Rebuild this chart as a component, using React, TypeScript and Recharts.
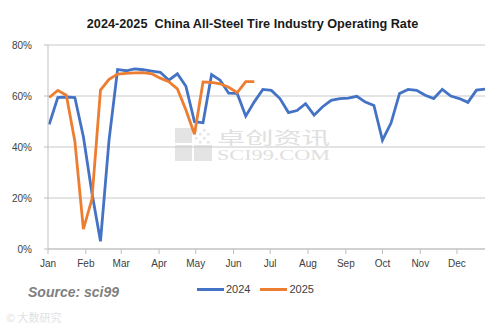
import React from 'react';
import { LineChart, Line, XAxis, YAxis, CartesianGrid } from 'recharts';

const title = '2024-2025  China All-Steel Tire Industry Operating Rate';
const monthLabels = ['Jan', 'Feb', 'Mar', 'Apr', 'May', 'Jun', 'Jul', 'Aug', 'Sep', 'Oct', 'Nov', 'Dec'];
const monthStartDays = [0, 31, 60, 91, 121, 152, 182, 213, 244, 274, 305, 335];
const yTicks = [0, 20, 40, 60, 80];

// day-of-year of each weekly observation
const weekDays = [1, 8, 15, 22, 29, 36, 43, 50, 57, 64, 71, 78, 85, 92, 99, 106, 113, 120, 127, 134, 141, 148, 155, 162, 169, 176, 183, 190, 197, 204, 211, 218, 225, 232, 239, 246, 253, 260, 267, 274, 281, 288, 295, 302, 309, 316, 323, 330, 337, 344, 351, 358];

const rate2024 = [48.9, 59.4, 59.6, 59.4, 44.0, 22.0, 3.0, 42.7, 70.4, 69.9, 70.6, 70.3, 69.8, 69.3, 66.2, 68.7, 63.8, 49.9, 49.5, 68.4, 66.2, 61.1, 61.0, 52.1, 57.7, 62.6, 62.2, 59.0, 53.5, 54.3, 57.0, 52.5, 55.8, 58.3, 59.0, 59.2, 59.9, 57.6, 56.3, 42.7, 49.4, 61.0, 62.6, 62.2, 60.3, 59.0, 62.6, 60.0, 59.0, 57.5, 62.3, 62.7];
const rate2025 = [59.4, 62.2, 60.3, 42.3, 7.8, 19.6, 62.3, 66.5, 68.6, 68.9, 69.1, 69.2, 68.7, 67.0, 65.6, 62.8, 54.5, 45.0, 65.5, 65.3, 64.8, 63.4, 61.3, 65.6, 65.6];

const series = [
  { key: 'y2024', name: '2024', color: '#4472C4' },
  { key: 'y2025', name: '2025', color: '#ED7D31' },
];

const data = weekDays.map((d, i) => ({
  day: d,
  y2024: rate2024[i] ?? null,
  y2025: rate2025[i] ?? null,
}));

const W = 501;
const H = 327;

export default function App() {
  return (
    <div style={{ position: 'absolute', left: 0, top: 0, width: W, height: H, background: '#fff', overflow: 'hidden', fontFamily: '"Liberation Sans", Arial, sans-serif' }}>
      {/* watermark */}
      <svg width={W} height={H} style={{ position: 'absolute', left: 0, top: 0 }}>
        <g fill="#e4e4e4">
          <rect x={175} y={128} width={17} height={15} />
          <rect x={175} y={145} width={17} height={16} />
          <rect x={194} y={145} width={18} height={16} />
          {[0, 1, 2, 3].map((r) =>
            [0, 1, 2, 3].map((c) => (
              (r + c) % 2 === 0 ? <rect key={`${r}-${c}`} x={195 + c * 4} y={129 + r * 4} width={2.5} height={2.5} /> : null
            ))
          )}
        </g>
        <text x={217} y={144} fontSize={17} fill="#e0e0e0" textLength={113} lengthAdjust="spacingAndGlyphs" fontFamily='"Noto Sans CJK SC", sans-serif'>卓创资讯</text>
        <text x={217} y={160} fontSize={14} fill="#e0e0e0" textLength={113} lengthAdjust="spacingAndGlyphs" fontFamily='"Liberation Serif", serif'>SCI99.COM</text>
      </svg>
      <div style={{ position: 'absolute', left: 0, top: 0 }}>
        <LineChart width={W} height={H} data={data} margin={{ top: 45, right: 16, bottom: 48, left: 0 }}>
          <CartesianGrid vertical={false} stroke="#c9c9c9" strokeWidth={1} />
          <XAxis
            dataKey="day"
            type="number"
            domain={[0, 358]}
            ticks={monthStartDays}
            tickFormatter={(v: number) => monthLabels[monthStartDays.indexOf(v)] ?? ''}
            interval={0}
            height={30}
            stroke="#bfbfbf"
            tickSize={5}
            tickMargin={6}
            tick={{ fill: '#404040', fontSize: 10 }}
          />
          <YAxis
            type="number"
            domain={[0, 80]}
            ticks={yTicks}
            tickFormatter={(v: number) => `${v}%`}
            width={48}
            stroke="#bfbfbf"
            tickSize={4}
            tickMargin={12}
            tick={{ fill: '#404040', fontSize: 10 }}
          />
          {series.map((s) => (
            <Line
              key={s.key}
              type="linear"
              dataKey={s.key}
              name={s.name}
              stroke={s.color}
              strokeWidth={2.8}
              dot={false}
              isAnimationActive={false}
              connectNulls={false}
            />
          ))}
        </LineChart>
      </div>
      {/* title */}
      <div style={{ position: 'absolute', left: 0, top: 17, width: 505, textAlign: 'center', fontSize: 12.7, fontWeight: 'bold', color: '#1a1a1a', whiteSpace: 'pre' }}>{title}</div>
      {/* source */}
      <div style={{ position: 'absolute', left: 28, top: 284, fontSize: 14, fontWeight: 'bold', fontStyle: 'italic', color: '#7f7f7f' }}>Source: sci99</div>
      {/* legend */}
      <div style={{ position: 'absolute', left: 197, top: 283, display: 'flex', alignItems: 'center', fontSize: 11, color: '#404040' }}>
        {series.map((s) => (
          <div key={s.key} style={{ display: 'flex', alignItems: 'center', marginRight: 10 }}>
            <div style={{ width: 27, height: 3, background: s.color, marginRight: 2 }} />
            <span>{s.name}</span>
          </div>
        ))}
      </div>
      {/* faint bottom-left mark */}
      <div style={{ position: 'absolute', left: 6, top: 309, fontSize: 11, color: '#e2e2e2', fontFamily: '"Noto Sans CJK SC", sans-serif' }}>© 大数研究</div>
    </div>
  );
}
